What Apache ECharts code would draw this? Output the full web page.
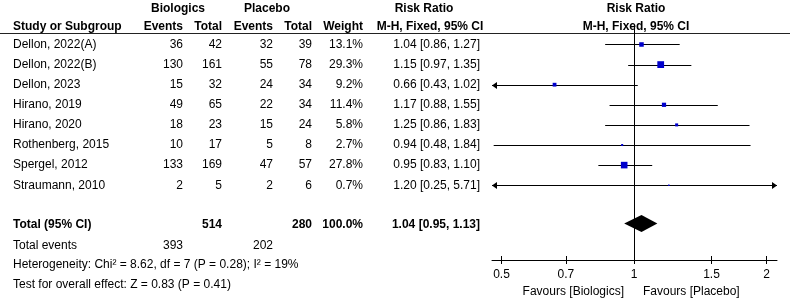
<!DOCTYPE html>
<html>
<head>
<meta charset="utf-8">
<script src="https://cdn.jsdelivr.net/npm/echarts@6/dist/echarts.min.js"></script>
<style>
  html, body { margin: 0; background: #fff; }
  #chart { width: 790px; height: 306px; }
</style>
</head>
<body>
<div id="chart"></div>
<script>
const studies = ['Dellon, 2022(A)', 'Dellon, 2022(B)', 'Dellon, 2023', 'Hirano, 2019', 'Hirano, 2020', 'Rothenberg, 2015', 'Spergel, 2012', 'Straumann, 2010'];
const bioEvents = [36, 130, 15, 49, 18, 10, 133, 2];
const bioTotal = [42, 161, 32, 65, 23, 17, 169, 5];
const plaEvents = [32, 55, 24, 22, 15, 5, 47, 2];
const plaTotal = [39, 78, 34, 34, 24, 8, 57, 6];
const weights = [13.1, 29.3, 9.2, 11.4, 5.8, 2.7, 27.8, 0.7];
const rr = [1.04, 1.15, 0.66, 1.17, 1.25, 0.94, 0.95, 1.20];
const ciLow = [0.86, 0.97, 0.43, 0.88, 0.86, 0.48, 0.83, 0.25];
const ciHigh = [1.27, 1.35, 1.02, 1.55, 1.83, 1.84, 1.10, 5.71];
const pooled = [1.04, 0.95, 1.13];
const totalBio = 514, totalPla = 280, eventsBio = 393, eventsPla = 202;
const tickValues = [0.5, 0.7, 1, 1.5, 2];
const axisRange = [0.4758, 2.113];

const FONT = '"Liberation Sans", Arial, sans-serif';
const X_MIN = Math.log(axisRange[0]);
const X_MAX = Math.log(axisRange[1]);
const TOTAL_ROW = 8.9;

const chart = echarts.init(document.getElementById('chart'), null, { renderer: 'canvas' });

const fmt = (v) => v.toFixed(2);
const crisp = (y) => Math.round(y) + 0.5;

function arrowHead(p, dir) {
  const y = crisp(p[1]);
  return {
    type: 'polygon',
    shape: { points: [[p[0], y], [p[0] - dir * 5, y - 3.5], [p[0] - dir * 5, y + 3.5]] },
    style: { fill: '#000' }
  };
}

const studyData = rr.map((v, i) => [Math.log(v), Math.log(ciLow[i]), Math.log(ciHigh[i]), i, weights[i]]);

const xAxisBase = {
  type: 'value', min: X_MIN, max: X_MAX, position: 'bottom',
  splitLine: { show: false }
};

chart.setOption({
  animation: false,
  grid: { left: 492, width: 285, top: 27, height: 233 },
  xAxis: [
    Object.assign({}, xAxisBase, {
      axisLine: { onZero: false, lineStyle: { color: '#000', width: 1 } },
      axisTick: { inside: true, length: 4, lineStyle: { color: '#000' }, customValues: tickValues.map(Math.log) },
      axisLabel: {
        customValues: tickValues.map(Math.log), margin: 9,
        color: '#000', fontSize: 12, fontFamily: FONT,
        formatter: (v) => String(+Math.exp(v).toFixed(2))
      }
    }),
    Object.assign({}, xAxisBase, {
      axisLine: { show: false, onZero: false },
      axisTick: { inside: false, length: 4, lineStyle: { color: '#000' }, customValues: tickValues.map(Math.log) },
      axisLabel: { show: false }
    })
  ],
  yAxis: { type: 'value', inverse: true, min: -0.87, max: 10.72, show: false },
  series: [
    {
      type: 'scatter', data: [], silent: true,
      markLine: {
        silent: true, symbol: 'none', label: { show: false },
        lineStyle: { color: '#000', width: 1, type: 'solid' },
        data: [{ xAxis: 0 }]
      }
    },
    {
      type: 'custom', data: studyData, silent: true, clip: false,
      renderItem(params, api) {
        const r = api.value(3);
        const lo = Math.max(api.value(1), X_MIN), hi = Math.min(api.value(2), X_MAX);
        const pLo = api.coord([lo, r]), pHi = api.coord([hi, r]), pE = api.coord([api.value(0), r]);
        const y = crisp(pLo[1]);
        const children = [{
          type: 'line',
          shape: { x1: pLo[0], y1: y, x2: pHi[0], y2: y },
          style: { stroke: '#000', lineWidth: 1 }
        }];
        if (api.value(1) < X_MIN) children.push(arrowHead(pLo, -1));
        if (api.value(2) > X_MAX) children.push(arrowHead(pHi, 1));
        const s = Math.max(1.5, 1.25 * Math.sqrt(api.value(4)));
        children.push({
          type: 'rect',
          shape: { x: pE[0] - s / 2, y: pE[1] - s / 2, width: s, height: s },
          style: { fill: '#0000cc' }
        });
        return { type: 'group', children };
      }
    },
    {
      type: 'custom', silent: true, clip: false,
      data: [[Math.log(pooled[0]), Math.log(pooled[1]), Math.log(pooled[2]), TOTAL_ROW]],
      renderItem(params, api) {
        const r = api.value(3);
        const pE = api.coord([api.value(0), r]);
        const pLo = api.coord([api.value(1), r]);
        const pHi = api.coord([api.value(2), r]);
        return {
          type: 'polygon',
          shape: { points: [[pLo[0], pE[1]], [pE[0], pE[1] - 8.5], [pHi[0], pE[1]], [pE[0], pE[1] + 8.5]] },
          style: { fill: '#000' }
        };
      }
    }
  ]
});

// table text, rows placed on the same y scale as the plot
const rowY = (i) => chart.convertToPixel({ yAxisIndex: 0 }, i);
const oneX = chart.convertToPixel({ xAxisIndex: 0 }, 0);

function txt(text, x, y, align, bold) {
  return {
    type: 'text', silent: true,
    style: {
      text, x, y, fill: '#000',
      font: (bold ? 'bold ' : '') + '12px ' + FONT,
      textAlign: align || 'left', textVerticalAlign: 'middle'
    }
  };
}

const COL = { study: 13, bioEv: 183, bioTot: 222, plaEv: 273, plaTot: 312, weight: 363, rr: 480 };
const g = [];

g.push(txt('Biologics', 178, 9, 'center', true));
g.push(txt('Placebo', 267, 9, 'center', true));
g.push(txt('Risk Ratio', 424, 9, 'center', true));
g.push(txt('Risk Ratio', oneX + 2, 9, 'center', true));
g.push(txt('Study or Subgroup', COL.study, 27, 'left', true));
g.push(txt('Events', COL.bioEv, 27, 'right', true));
g.push(txt('Total', COL.bioTot, 27, 'right', true));
g.push(txt('Events', COL.plaEv, 27, 'right', true));
g.push(txt('Total', COL.plaTot, 27, 'right', true));
g.push(txt('Weight', COL.weight, 27, 'right', true));
g.push(txt('M-H, Fixed, 95% CI', 430, 27, 'center', true));
g.push(txt('M-H, Fixed, 95% CI', oneX + 2, 27, 'center', true));
g.push({ type: 'line', silent: true, shape: { x1: 0, y1: 33.5, x2: 790, y2: 33.5 }, style: { stroke: '#222', lineWidth: 1 } });

studies.forEach((s, i) => {
  const y = rowY(i);
  g.push(txt(s, COL.study, y, 'left'));
  g.push(txt(String(bioEvents[i]), COL.bioEv, y, 'right'));
  g.push(txt(String(bioTotal[i]), COL.bioTot, y, 'right'));
  g.push(txt(String(plaEvents[i]), COL.plaEv, y, 'right'));
  g.push(txt(String(plaTotal[i]), COL.plaTot, y, 'right'));
  g.push(txt(weights[i].toFixed(1) + '%', COL.weight, y, 'right'));
  g.push(txt(`${fmt(rr[i])} [${fmt(ciLow[i])}, ${fmt(ciHigh[i])}]`, COL.rr, y, 'right'));
});

const ty = rowY(TOTAL_ROW) + 1;
g.push(txt('Total (95% CI)', COL.study, ty, 'left', true));
g.push(txt(String(totalBio), COL.bioTot, ty, 'right', true));
g.push(txt(String(totalPla), COL.plaTot, ty, 'right', true));
g.push(txt('100.0%', COL.weight, ty, 'right', true));
g.push(txt(`${fmt(pooled[0])} [${fmt(pooled[1])}, ${fmt(pooled[2])}]`, COL.rr, ty, 'right', true));

g.push(txt('Total events', COL.study, 246, 'left'));
g.push(txt(String(eventsBio), COL.bioEv, 246, 'right'));
g.push(txt(String(eventsPla), COL.plaEv, 246, 'right'));
g.push(txt('Heterogeneity: Chi\u00b2 = 8.62, df = 7 (P = 0.28); I\u00b2 = 19%', COL.study, 265, 'left'));
g.push(txt('Test for overall effect: Z = 0.83 (P = 0.41)', COL.study, 285, 'left'));

g.push(txt('Favours [Biologics]', oneX - 10, 292, 'right'));
g.push(txt('Favours [Placebo]', oneX + 9, 292, 'left'));

chart.setOption({ graphic: g });
</script>
</body>
</html>
